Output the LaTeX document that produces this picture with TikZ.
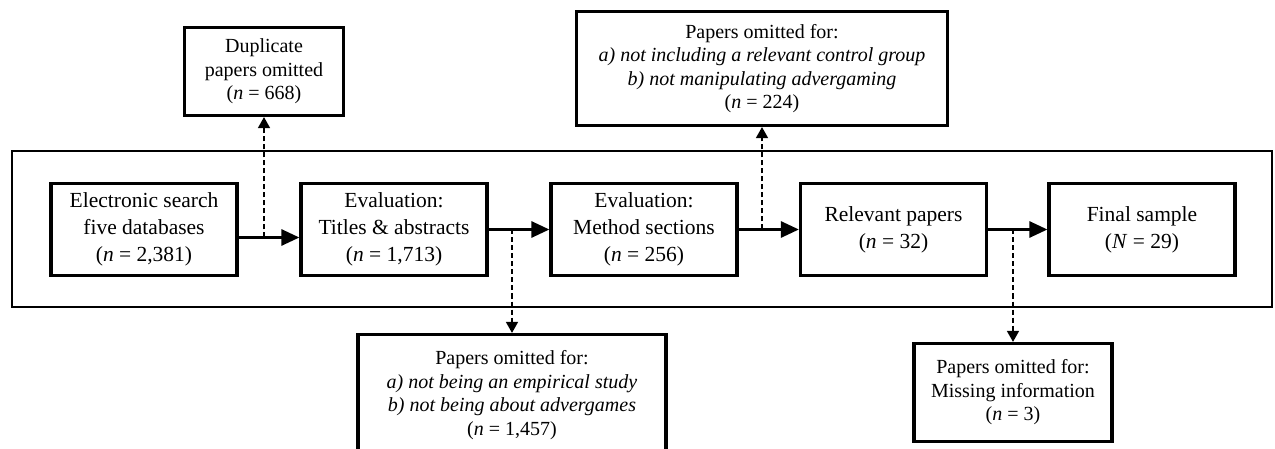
\documentclass[tikz,border=0pt]{standalone}
\usepackage{fontspec}
\setmainfont{Liberation Serif}
\usetikzlibrary{arrows.meta}
\tikzset{
  mainbox/.style={draw, line width=3.2pt, minimum width=186pt, minimum height=92pt, align=center, inner sep=2pt,
    font=\fontsize{21.5}{26.7}\selectfont},
  sidebox/.style={draw, line width=3.2pt, align=center, inner sep=2pt,
    font=\fontsize{20}{23.5}\selectfont},
  flowarrow/.style={line width=2.8pt, -{Triangle[length=18pt,width=16pt]}},
  omitarrow/.style={line width=1.6pt, dash pattern=on 5pt off 3pt, -{Triangle[length=11pt,width=12pt]}},
  frame/.style={draw, line width=1.5pt}
}
\begin{document}
\begin{tikzpicture}[x=1pt,y=-1pt]
\useasboundingbox (0,0) rectangle (1275,449);
\draw[frame] (12,151) rectangle (1272,307);
% main boxes
\node[mainbox] (b1) at (144,229.5) {Electronic search\\five databases\\(\textit{n} = 2,381)};
\node[mainbox] (b2) at (394,229.5) {Evaluation:\\Titles \& abstracts\\(\textit{n} = 1,713)};
\node[mainbox] (b3) at (644,229.5) {Evaluation:\\Method sections\\(\textit{n} = 256)};
\node[mainbox] (b4) at (893.5,229.5) {Relevant papers\\(\textit{n} = 32)};
\node[mainbox] (b5) at (1142,229.5) {Final sample\\(\textit{N} = 29)};
% side boxes
\node[sidebox, minimum width=159pt, minimum height=88pt] (e1) at (264,71.5) {Duplicate\\papers omitted\\(\textit{n} = 668)};
\node[sidebox, minimum width=308pt, minimum height=121pt] (e2) at (512,395) {Papers omitted for:\\\textit{a) not being an empirical study}\\\textit{b) not being about advergames}\\(\textit{n} = 1,457)};
\node[sidebox, minimum width=371pt, minimum height=114pt] (e3) at (762,68.5) {Papers omitted for:\\\textit{a) not including a relevant control group}\\\textit{b) not manipulating advergaming}\\(\textit{n} = 224)};
\node[sidebox, minimum width=198pt, minimum height=98pt] (e4) at (1013,392.5) {Papers omitted for:\\Missing information\\(\textit{n} = 3)};
% flow arrows
\draw[flowarrow] ([yshift=-8pt]b1.east) -- ([yshift=-8pt]b2.west);
\draw[flowarrow] (b2.east) -- (b3.west);
\draw[flowarrow] (b3.east) -- (b4.west);
\draw[flowarrow] (b4.east) -- (b5.west);
% omission arrows
\coordinate (d1) at (264,237.5);
\coordinate (d2) at (512,229.5);
\coordinate (d3) at (762,229.5);
\coordinate (d4) at (1013,229.5);
\draw[omitarrow] (d1) -- (e1.south);
\draw[omitarrow] (d2) -- (e2.north);
\draw[omitarrow] (d3) -- (e3.south);
\draw[omitarrow] (d4) -- (e4.north);
\end{tikzpicture}
\end{document}
